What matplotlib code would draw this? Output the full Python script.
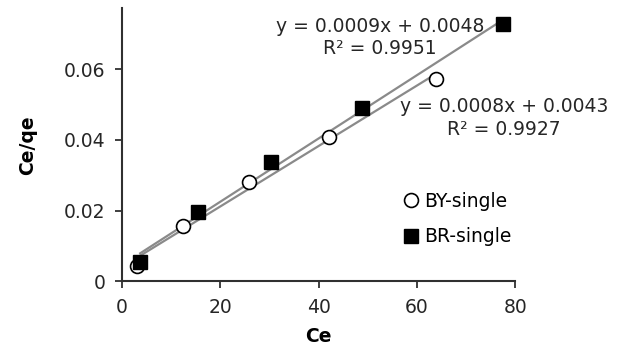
import numpy as np
import matplotlib
matplotlib.use("Agg")
import matplotlib.pyplot as plt

# Ce vs Ce/qe readings
by_ce = [3.0, 12.5, 25.8, 42.0, 63.8]
by_ratio = [0.0044, 0.0157, 0.0281, 0.0408, 0.0572]
br_ce = [3.7, 15.4, 30.3, 48.9, 77.5]
br_ratio = [0.0055, 0.0196, 0.0337, 0.0489, 0.0727]

by_label = "y = 0.0008x + 0.0043\nR² = 0.9927"
br_label = "y = 0.0009x + 0.0048\nR² = 0.9951"

plt.rcParams['font.family'] = ['DejaVu Sans']

fig = plt.figure(figsize=(6.4, 3.52), dpi=100)
ax = fig.add_axes([0.1906, 0.2003, 0.6148, 0.7767])

# linear trendlines over the range of each series
for xs, ys in [(by_ce, by_ratio), (br_ce, br_ratio)]:
    k, b = np.polyfit(xs, ys, 1)
    xx = np.array([min(xs), max(xs)])
    ax.plot(xx, k * xx + b, color="#8a8a8a", lw=1.6, zorder=2)

ax.plot(by_ce, by_ratio, "o", ms=10, mfc="white", mec="black", mew=1.2,
        ls="none", label="BY-single", zorder=3)
ax.plot(br_ce, br_ratio, "s", ms=10, mfc="black", mec="black",
        ls="none", label="BR-single", zorder=3)

ax.set_xlim(0, 80)
ax.set_ylim(0, 0.0772)
ax.set_xticks([0, 20, 40, 60, 80])
ax.set_yticks([0, 0.02, 0.04, 0.06])
ax.set_yticklabels(["0", "0.02", "0.04", "0.06"])

for side in ["top", "right"]:
    ax.spines[side].set_visible(False)
for side in ["left", "bottom"]:
    ax.spines[side].set_color("#303030")
    ax.spines[side].set_linewidth(1.5)
ax.tick_params(direction="out", length=5, width=1.3, color="#303030",
               labelsize=13.5, labelcolor="#262626", pad=7)

ax.set_xlabel("Ce", fontsize=13.5, fontweight="bold", labelpad=7)
ax.set_ylabel("Ce/qe", fontsize=13.5, fontweight="bold", labelpad=19)

ax.text(0.6551, 0.892, br_label, transform=ax.transAxes, ha="center",
        va="center", multialignment="center", fontsize=13.5,
        color="#262626", linespacing=1.25)
ax.text(0.9713, 0.5967, by_label, transform=ax.transAxes, ha="center",
        va="center", multialignment="center", fontsize=13.5,
        color="#262626", linespacing=1.25)

ax.legend(loc="center left", bbox_to_anchor=(0.7, 0.2285), frameon=False,
          fontsize=13.5, handlelength=0.6, handletextpad=0.4,
          labelspacing=0.9, borderaxespad=0)

fig.savefig("out.png", dpi=100)
